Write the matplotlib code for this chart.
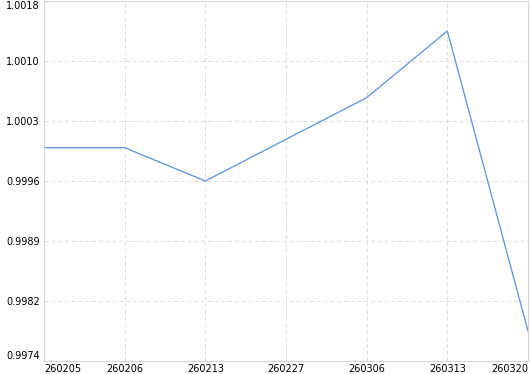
import matplotlib
matplotlib.use("Agg")
import matplotlib.pyplot as plt
import numpy as np

# weekly values
dates = ["260205", "260206", "260213", "260227", "260306", "260313", "260320"]
values = [1.0000, 1.0000, 0.9996, 1.0001, 1.0006, 1.0014, 0.9978]

LINE = "#5592e8"
GRID = "#dcdcdc"

fig = plt.figure(figsize=(5.30, 3.74), dpi=100)
ax = fig.add_axes([44 / 530, 13 / 374, 484 / 530, 360 / 374])

x = np.arange(len(dates))
ax.plot(x, values, color=LINE, linewidth=0.9)

# 10% margin on both sides, 6 equal intervals
lo, hi = min(values), max(values)
pad = (hi - lo) * 0.1
ymin, ymax = lo - pad, hi + pad
ax.set_ylim(ymin, ymax)
ax.set_xlim(0, len(dates) - 1)

yticks = np.linspace(ymin, ymax, 7)
ax.set_yticks(yticks)
ax.set_yticklabels([f"{v:.4f}" for v in yticks], fontsize=7)
ax.set_xticks(x)
ax.set_xticklabels(dates, fontsize=7)

ylabels = ax.get_yticklabels()
ylabels[0].set_verticalalignment("bottom")
ylabels[-1].set_verticalalignment("top")
xlabels = ax.get_xticklabels()
xlabels[0].set_horizontalalignment("left")
xlabels[-1].set_horizontalalignment("right")

ax.tick_params(axis="both", length=0, colors="black")
ax.tick_params(axis="y", pad=3)
ax.tick_params(axis="x", pad=2)

for side in ["left", "bottom", "top", "right"]:
    ax.spines[side].set_color("#d4d4d4")
    ax.spines[side].set_linewidth(0.8)

ax.grid(True, linestyle=(0, (4, 3)), color=GRID, linewidth=0.7)
ax.set_axisbelow(True)

fig.savefig("out.png", dpi=100)
